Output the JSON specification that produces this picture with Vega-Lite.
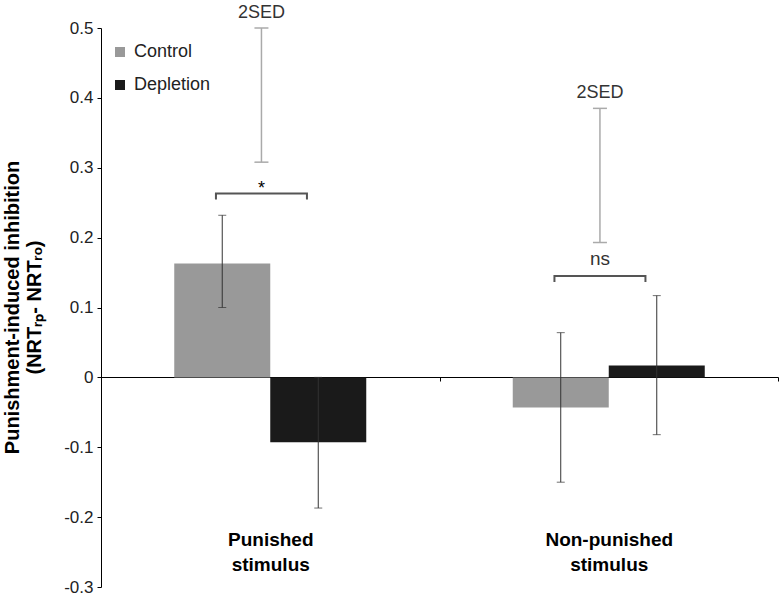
{
  "$schema": "https://vega.github.io/schema/vega-lite/v6.json",
  "width": 677,
  "height": 559,
  "autosize": "none",
  "padding": {"left": 101, "top": 28, "right": 3, "bottom": 12},
  "config": {"view": {"stroke": null}, "font": "Liberation Sans", "axis": {"grid": false}},
  "datasets": {
    "bars": [
      {"stim": "Punished stimulus", "group": "Control", "mean": 0.163, "lo": 0.100, "hi": 0.232},
      {"stim": "Punished stimulus", "group": "Depletion", "mean": -0.093, "lo": -0.187, "hi": 0.0},
      {"stim": "Non-punished stimulus", "group": "Control", "mean": -0.043, "lo": -0.150, "hi": 0.064},
      {"stim": "Non-punished stimulus", "group": "Depletion", "mean": 0.017, "lo": -0.082, "hi": 0.117}
    ],
    "sed": [
      {"stim": "Punished stimulus", "lo": 0.308, "hi": 0.5, "bracket": 0.263, "sig": "*"},
      {"stim": "Non-punished stimulus", "lo": 0.193, "hi": 0.385, "bracket": 0.145, "sig": "ns"}
    ]
  },
  "layer": [
    {
      "data": {"name": "bars"},
      "mark": {"type": "bar"},
      "encoding": {
        "x": {
          "field": "stim", "type": "nominal",
          "scale": {"domain": ["Punished stimulus", "Non-punished stimulus"], "paddingInner": 0, "paddingOuter": 0},
          "axis": {
            "orient": "bottom", "offset": -210, "title": null,
            "domainColor": "#000", "domainWidth": 1,
            "tickColor": "#000", "tickSize": 4, "tickBand": "extent",
            "labelPadding": 149, "labelFontSize": 19, "labelFontWeight": "bold",
            "labelColor": "#000", "labelAngle": 0, "labelLineHeight": 25,
            "labelExpr": "split(datum.label, ' ')"
          }
        },
        "xOffset": {"field": "group", "type": "nominal", "scale": {"domain": ["Control", "Depletion"], "paddingInner": 0, "paddingOuter": 0.763}},
        "y": {
          "field": "mean", "type": "quantitative",
          "scale": {"domain": [-0.3, 0.5], "nice": false, "zero": false},
          "axis": {
            "values": [-0.3, -0.2, -0.1, 0, 0.1, 0.2, 0.3, 0.4, 0.5],
            "labelExpr": "datum.value == 0 ? '0' : (datum.value < 0 ? '-' + format(-datum.value, '.1f') : format(datum.value, '.1f'))",
            "labelFontSize": 17, "labelColor": "#222", "labelPadding": 4,
            "tickSize": 4, "tickColor": "#000", "domainColor": "#000",
            "title": ["Punishment-induced inhibition", "(NRTᵣₚ- NRTᵣₒ)"],
            "titleFontSize": 20, "titleFontWeight": "bold", "titleColor": "#000",
            "titleX": -99, "titleY": 279, "titleAngle": -90, "titleAlign": "center",
            "titleBaseline": "top", "titleLineHeight": 22
          }
        },
        "color": {
          "field": "group", "type": "nominal",
          "scale": {"domain": ["Control", "Depletion"], "range": ["#999999", "#1a1a1a"]},
          "legend": {
            "orient": "none", "legendX": 10, "legendY": 15, "title": null,
            "symbolType": "square", "symbolSize": 100, "symbolStrokeWidth": 0,
            "labelFontSize": 18, "labelColor": "#222", "labelOffset": 5,
            "rowPadding": 15, "padding": 0
          }
        }
      }
    },
    {
      "data": {"name": "bars"},
      "mark": {"type": "rule", "color": "#333", "strokeWidth": 1},
      "encoding": {
        "x": {"field": "stim", "type": "nominal"},
        "xOffset": {"field": "group", "type": "nominal"},
        "y": {"field": "lo", "type": "quantitative"},
        "y2": {"field": "hi"}
      }
    },
    {
      "data": {"name": "bars"},
      "mark": {"type": "tick", "orient": "horizontal", "size": 8, "thickness": 1, "color": "#333"},
      "encoding": {
        "x": {"field": "stim", "type": "nominal"},
        "xOffset": {"field": "group", "type": "nominal"},
        "y": {"field": "lo", "type": "quantitative"}
      }
    },
    {
      "data": {"name": "bars"},
      "mark": {"type": "tick", "orient": "horizontal", "size": 8, "thickness": 1, "color": "#333"},
      "encoding": {
        "x": {"field": "stim", "type": "nominal"},
        "xOffset": {"field": "group", "type": "nominal"},
        "y": {"field": "hi", "type": "quantitative"}
      }
    },
    {
      "data": {"name": "sed"},
      "mark": {"type": "rule", "color": "#aaaaaa", "strokeWidth": 1.5},
      "encoding": {
        "x": {"field": "stim", "type": "nominal", "bandPosition": 0.474},
        "y": {"field": "lo", "type": "quantitative"},
        "y2": {"field": "hi"}
      }
    },
    {
      "data": {"name": "sed"},
      "mark": {"type": "point", "shape": "M-1,0L1,0", "size": 196, "filled": false, "strokeWidth": 1.5, "color": "#aaaaaa", "opacity": 1},
      "encoding": {
        "x": {"field": "stim", "type": "nominal", "bandPosition": 0.474},
        "y": {"field": "lo", "type": "quantitative"}
      }
    },
    {
      "data": {"name": "sed"},
      "mark": {"type": "point", "shape": "M-1,0L1,0", "size": 196, "filled": false, "strokeWidth": 1.5, "color": "#aaaaaa", "opacity": 1},
      "encoding": {
        "x": {"field": "stim", "type": "nominal", "bandPosition": 0.474},
        "y": {"field": "hi", "type": "quantitative"}
      }
    },
    {
      "data": {"name": "sed"},
      "mark": {"type": "text", "text": "2SED", "fontSize": 18, "color": "#333", "baseline": "alphabetic", "dy": -10},
      "encoding": {
        "x": {"field": "stim", "type": "nominal", "bandPosition": 0.474},
        "y": {"field": "hi", "type": "quantitative"}
      }
    },
    {
      "data": {"name": "sed"},
      "mark": {"type": "point", "shape": "M-1,0.13L-1,0L1,0L1,0.13", "size": 8281, "filled": false, "strokeWidth": 2, "color": "#555", "opacity": 1},
      "encoding": {
        "x": {"field": "stim", "type": "nominal", "bandPosition": 0.474},
        "y": {"field": "bracket", "type": "quantitative"}
      }
    },
    {
      "data": {"name": "sed"},
      "transform": [{"filter": "datum.sig == '*'"}],
      "mark": {"type": "text", "fontSize": 18, "color": "#000", "baseline": "alphabetic", "dy": 0},
      "encoding": {
        "x": {"field": "stim", "type": "nominal", "bandPosition": 0.474},
        "y": {"field": "bracket", "type": "quantitative"},
        "text": {"field": "sig"}
      }
    },
    {
      "data": {"name": "sed"},
      "transform": [{"filter": "datum.sig == 'ns'"}],
      "mark": {"type": "text", "fontSize": 19, "color": "#333", "baseline": "alphabetic", "dy": -11},
      "encoding": {
        "x": {"field": "stim", "type": "nominal", "bandPosition": 0.474},
        "y": {"field": "bracket", "type": "quantitative"},
        "text": {"field": "sig"}
      }
    }
  ]
}
